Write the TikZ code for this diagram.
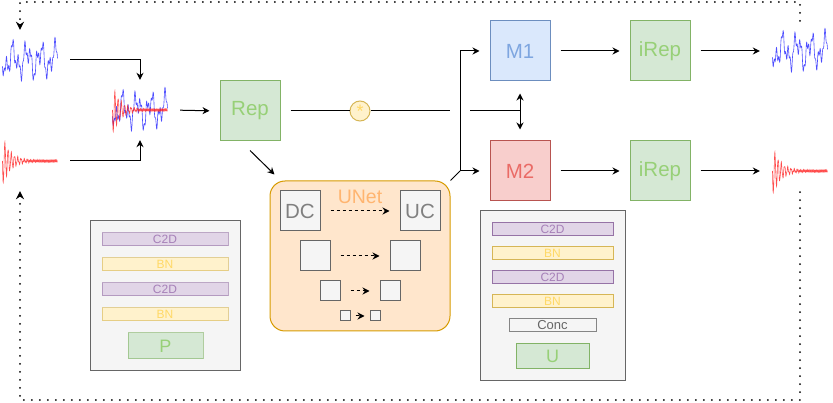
\documentclass[tikz,border=0pt]{standalone}
\usepackage{fontspec}
\setmainfont{Liberation Sans}
\usetikzlibrary{arrows.meta,calc}
\definecolor{grnfill}{HTML}{D5E8D4}
\definecolor{grnline}{HTML}{82B366}
\definecolor{grntext}{HTML}{97D077}
\definecolor{blufill}{HTML}{DAE8FC}
\definecolor{bluline}{HTML}{6C8EBF}
\definecolor{blutext}{HTML}{7EA6E0}
\definecolor{redfill}{HTML}{F8CECC}
\definecolor{redline}{HTML}{B85450}
\definecolor{redtext}{HTML}{EA6B66}
\definecolor{ornfill}{HTML}{FFE6CC}
\definecolor{ornline}{HTML}{D79B00}
\definecolor{orntext}{HTML}{FFB570}
\definecolor{gryfill}{HTML}{F5F5F5}
\definecolor{gryline}{HTML}{666666}
\definecolor{grytext}{HTML}{808080}
\definecolor{purfill}{HTML}{E1D5E7}
\definecolor{purline}{HTML}{9673A6}
\definecolor{purtext}{HTML}{A680B8}
\definecolor{ylwfill}{HTML}{FFF2CC}
\definecolor{ylwline}{HTML}{D6B656}
\definecolor{ylwtext}{HTML}{FFD966}
\definecolor{wblue}{HTML}{2020FF}
\definecolor{wred}{HTML}{FF2020}
% signal shapes, drawn around (0,0)
\newcommand{\bluewave}{plot[domain=0:55,samples=300] (\x-27.5,{1.1*(9*sin(\x*25.7)+8*sin(\x*59+40)+4*sin(\x*156+10))})}
\newcommand{\redwave}{plot[domain=0:55,samples=300] (\x-27.5,{24*exp(-\x/8)*sin(\x*112)+1.2*sin(\x*277)})}

\begin{document}
\begin{tikzpicture}[
			x=1pt, y=-1pt,
			box/.style={draw, line width=1pt, minimum width=60pt, minimum height=60pt, inner sep=0pt, font=\fontsize{20.5}{24}\selectfont},
			grnbox/.style={box, fill=grnfill, draw=grnline, text=grntext},
			blubox/.style={box, fill=blufill, draw=bluline, text=blutext},
			redbox/.style={box, fill=redfill, draw=redline, text=redtext},
			grybox/.style={box, fill=gryfill, draw=gryline, text=grytext},
			panel/.style={draw=gryline, fill=gryfill, line width=1pt},
			bar/.style={draw, line width=1pt, minimum height=13pt, inner sep=0pt, font=\fontsize{12}{12}\selectfont},
			c2dbar/.style={bar, fill=purfill, draw=purline, text=purtext},
			bnbar/.style={bar, fill=ylwfill, draw=ylwline, text=ylwtext},
			concbar/.style={bar, fill=gryfill, draw=gryline!80, text=gryline, font=\fontsize{13}{13}\selectfont},
			faded/.style={draw opacity=0.6},
			prod/.style={circle, draw=ylwline, fill=ylwfill, text=ylwtext, line width=1pt, minimum size=20pt, inner sep=0pt, font=\fontsize{18}{18}\selectfont},
			sig/.style={minimum width=60pt, minimum height=60pt, inner sep=0pt},
			ln/.style={line width=1pt},
			arr/.style={line width=1pt, -{Stealth[length=7pt,width=7pt]}},
			dsh/.style={arr, dash pattern=on 3pt off 3pt},
			fb/.style={line width=2pt, line cap=round, dash pattern=on 0pt off 8pt, -{Stealth[length=8pt,width=8pt]}},
			bwave/.style={draw=wblue, line width=0.6pt, opacity=0.8},
			rwave/.style={draw=wred, line width=0.6pt, opacity=0.8}
			]
			\useasboundingbox (0,0) rectangle (833,403);
			% signals
			\node[sig] (inA) at (30,60) {};
			\node[sig] (inB) at (30,161) {};
			\node[sig] (mix) at (140,110) {};
			\node[sig] (out1) at (800,51) {};
			\node[sig] (out2) at (800,171) {};
			\foreach \s in {inA,mix,out1}
				\draw[bwave, shift={(\s.center)}] \bluewave;
			\foreach \s in {inB,mix,out2}
				\draw[rwave, shift={(\s.center)}] \redwave;
			% main blocks
			\node[grnbox] (rep) at (250,111) {Rep};
			\node[prod] (mul) at (360,111) {\raisebox{-4pt}{*}};
			\node[blubox] (m1) at (520,51) {M1};
			\node[redbox] (m2) at (520,171) {M2};
			\node[grnbox] (ir1) at (660,51) {iRep};
			\node[grnbox] (ir2) at (660,171) {iRep};
			% unet
			\node[draw=ornline, fill=ornfill, line width=1pt, rounded corners=15pt, minimum width=180pt, minimum height=150pt] (unet) at (360,256) {};
			\node[text=orntext, font=\fontsize{19.5}{19.5}\selectfont] (unetlbl) at (360,197) {UNet};
			\node[grybox, minimum size=40pt] (dc) at (300,211) {DC};
			\node[grybox, minimum size=40pt] (uc) at (420,211) {UC};
			\node[grybox, minimum size=30pt] (dtwo) at (315,256) {};
			\node[grybox, minimum size=30pt] (utwo) at (405,256) {};
			\node[grybox, minimum size=20pt] (dthree) at (330,291) {};
			\node[grybox, minimum size=20pt] (uthree) at (390,291) {};
			\node[grybox, minimum size=10pt] (dfour) at (345,316) {};
			\node[grybox, minimum size=10pt] (ufour) at (375,316) {};
			% P panel
			\node[panel, minimum width=150pt, minimum height=150pt] (pbox) at (165,296) {};
			\node[c2dbar, faded, minimum width=126pt] (pa) at (165,239.5) {C2D};
			\node[bnbar, faded, minimum width=126pt] (pb) at (165,264.5) {BN};
			\node[c2dbar, faded, minimum width=126pt] (pc) at (165,289.5) {C2D};
			\node[bnbar, faded, minimum width=126pt] (pd) at (165,314.5) {BN};
			\node[grnbox, faded, minimum width=75pt, minimum height=26pt, font=\fontsize{18}{18}\selectfont] (pp) at (165.5,346) {P};
			% U panel
			\node[panel, minimum width=145pt, minimum height=170pt] (ubox) at (552.5,296) {};
			\node[c2dbar, minimum width=121pt] (ua) at (552.5,229.5) {C2D};
			\node[bnbar, minimum width=121pt] (ub) at (552.5,253.5) {BN};
			\node[c2dbar, minimum width=121pt] (uc2) at (552.5,277.5) {C2D};
			\node[bnbar, minimum width=121pt] (ud) at (552.5,301.5) {BN};
			\node[concbar, minimum width=87pt] (ucat) at (552.5,325.5) {Conc};
			\node[grnbox, minimum width=73pt, minimum height=25pt, font=\fontsize{18}{18}\selectfont] (uu) at (552.5,356) {U};
			% connectors
			\coordinate (gapl) at (450,111);
			\coordinate (gapr) at (470,111);
			\coordinate (jn) at (520,111);
			\coordinate (sp) at (460,171);
			\coordinate (tl) at (20,2);
			\coordinate (bl) at (20,400);
			\draw[arr] ($(inA.east)+(10,0)$) -| (mix.north);
			\draw[arr] ($(inB.east)+(10,0)$) -| (mix.south);
			\draw[arr, shorten <=10pt, shorten >=10pt] (mix.east) -- (rep.west);
			\draw[ln, shorten <=10pt] (rep.east) -- (mul.west);
			\draw[ln] (mul.east) -- (gapl);
			\draw[ln] (gapr) -- (jn);
			\draw[line width=1pt, {Stealth[length=7pt,width=7pt]}-{Stealth[length=7pt,width=7pt]}, shorten <=12pt, shorten >=11pt] (m1.south) -- (m2.north);
			\draw[arr] ($(rep.south)+(0,9)$) -- ($(unet.north west)+(5,-6)$);
			\draw[ln] (unet.north east) -- (sp);
			\draw[arr, shorten >=10pt] (sp) -- (m2.west);
			\draw[arr, shorten >=10pt] (sp) |- (m1.west);
			\draw[arr, shorten <=10pt, shorten >=10pt] (m1.east) -- (ir1.west);
			\draw[arr, shorten <=10pt, shorten >=10pt] (m2.east) -- (ir2.west);
			\draw[arr, shorten <=10pt, shorten >=10pt] (ir1.east) -- (out1.west);
			\draw[arr, shorten <=10pt, shorten >=10pt] (ir2.east) -- (out2.west);
			\draw[dsh, shorten <=10pt, shorten >=10pt] (dc.east) -- (uc.west);
			\draw[dsh, shorten <=10pt, shorten >=10pt] (dtwo.east) -- (utwo.west);
			\draw[dsh, shorten <=10pt, shorten >=10pt] (dthree.east) -- (uthree.west);
			\draw[dsh, shorten <=5pt, shorten >=5pt] (dfour.east) -- (ufour.west);
			% feedback loops
			\draw[fb] (out1.north) |- (tl) -- (tl |- inA.north);
			\draw[fb] ($(out2.south)+(0,-9)$) |- (bl) -- (bl |- inB.south);
\end{tikzpicture}
\end{document}
